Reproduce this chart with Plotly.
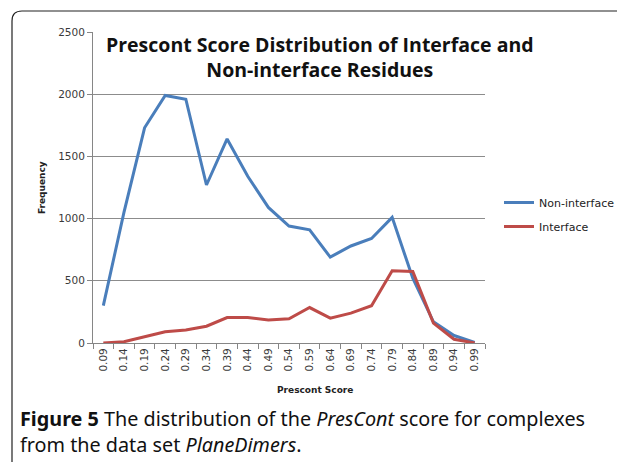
import plotly.graph_objects as go

scores = ["0.09", "0.14", "0.19", "0.24", "0.29", "0.34", "0.39", "0.44", "0.49", "0.54",
          "0.59", "0.64", "0.69", "0.74", "0.79", "0.84", "0.89", "0.94", "0.99"]
non_interface = [300, 1050, 1730, 1990, 1960, 1270, 1640, 1340, 1090, 940,
                 910, 690, 780, 840, 1010, 520, 170, 60, 5]
interface = [0, 10, 50, 90, 105, 135, 205, 205, 185, 195,
             285, 200, 240, 300, 580, 575, 160, 30, 0]

OFF = 8  # page body margin
W, H = 625 - OFF, 462 - OFF
L, R, T, B = 93, 485, 32, 343

def px(x):
    return (x - L) / (R - L)

def py(y):
    return (B - y) / (B - T)

fig = go.Figure()
fig.add_trace(go.Scatter(x=scores, y=non_interface, mode="lines", name="Non-interface",
                         legendgroup="g1", line=dict(color="#4A7EBB", width=3)))
fig.add_trace(go.Scatter(x=scores, y=interface, mode="lines", name="Interface",
                         legendgroup="g2", line=dict(color="#BE4B48", width=3)))

tickfont = dict(family="DejaVu Sans", size=10.5, color="#3A3A3A")

fig.update_layout(
    width=W, height=H,
    margin=dict(l=L - OFF, r=625 - R, t=T - OFF, b=462 - B, autoexpand=False),
    paper_bgcolor="white", plot_bgcolor="white",
    showlegend=True,
    legend=dict(x=px(499), y=py(188), xanchor="left", yanchor="top",
                font=dict(family="DejaVu Sans", size=11, color="#222"),
                itemwidth=30, tracegroupgap=5, bgcolor="rgba(0,0,0,0)"),
    xaxis=dict(type="category", range=[-0.5, 18.5], tickangle=-90,
               ticks="outside", tickson="boundaries", ticklen=5, tickcolor="#868686",
               showline=True, linecolor="#868686", showgrid=False,
               tickfont=tickfont),
    yaxis=dict(range=[0, 2500], dtick=500, ticks="outside", ticklen=5, tickcolor="#868686",
               showline=True, linecolor="#868686", showgrid=True, gridcolor="#8C8C8C",
               gridwidth=1, zeroline=False, tickfont=tickfont),
)

fig.add_annotation(x=px(320), y=py(57.5), xref="paper", yref="paper",
                   xanchor="center", yanchor="middle",
                   text="<b>Prescont Score Distribution of Interface and<br>Non-interface Residues</b>",
                   showarrow=False, align="center",
                   font=dict(family="Open Sans", size=19.5, color="#111"))
fig.add_annotation(x=px(42), y=py(188), xref="paper", yref="paper",
                   xanchor="center", yanchor="middle",
                   text="<b>Frequency</b>", textangle=-90, showarrow=False,
                   font=dict(family="DejaVu Sans", size=9, color="#222"))
fig.add_annotation(x=px(315), y=py(390), xref="paper", yref="paper",
                   xanchor="center", yanchor="middle",
                   text="<b>Prescont Score</b>", showarrow=False,
                   font=dict(family="DejaVu Sans", size=9, color="#222"))
fig.add_annotation(x=px(18), y=py(431), xref="paper", yref="paper",
                   xanchor="left", yanchor="middle",
                   text="<b>Figure 5</b> The distribution of the <i>PresCont</i> score for complexes<br>from the data set <i>PlaneDimers</i>.",
                   showarrow=False, align="left",
                   font=dict(family="Noto Sans", size=19.8, color="#111"))

# rounded frame
fig.add_shape(type="path", xref="paper", yref="paper",
              path=f"M {px(12)} {py(470)} L {px(12)} {py(21)} Q {px(12)} {py(11)} {px(22)} {py(11)} L {px(630)} {py(11)}",
              line=dict(color="#222", width=1.2))

fig.write_html("out.html")
